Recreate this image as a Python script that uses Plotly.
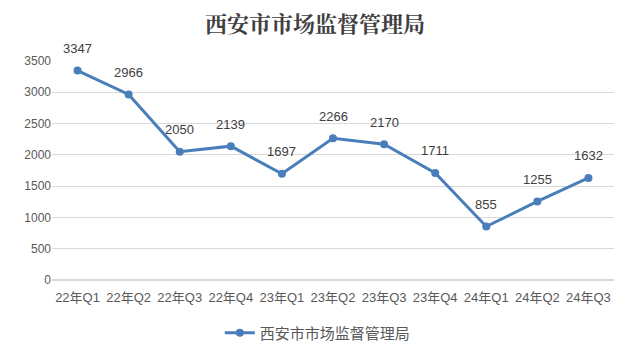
import plotly.graph_objects as go

categories = ["22年Q1", "22年Q2", "22年Q3", "22年Q4", "23年Q1", "23年Q2", "23年Q3", "23年Q4", "24年Q1", "24年Q2", "24年Q3"]
values = [3347, 2966, 2050, 2139, 1697, 2266, 2170, 1711, 855, 1255, 1632]
series_name = "西安市市场监督管理局"
y_ticks = [0, 500, 1000, 1500, 2000, 2500, 3000, 3500]

font_family = "Liberation Sans, Noto Sans CJK SC, sans-serif"
gray = "#595959"
blue = "#4a7ebb"

fig = go.Figure()
fig.add_trace(go.Scatter(
    x=categories, y=values, name=series_name,
    mode="lines+markers",
    line=dict(color=blue, width=3),
    marker=dict(color=blue, size=8),
    cliponaxis=False,
))
for c, v in zip(categories, values):
    fig.add_annotation(x=c, y=v, text=str(v), showarrow=False, yshift=22,
                       font=dict(size=13, color="#404040", family=font_family))

fig.update_layout(
    width=630, height=355,
    margin=dict(l=52, r=16, t=61, b=75, autoexpand=False),
    paper_bgcolor="white", plot_bgcolor="white",
    title=dict(text="<b>西安市市场监督管理局</b>", x=0.5, xanchor="center", yref="container", y=0.932, yanchor="middle",
               font=dict(size=22, color="#404040", family="Noto Serif CJK SC, Noto Sans CJK SC, serif")),
    showlegend=True,
    legend=dict(orientation="h", x=0.473, xanchor="center", yref="container", y=0.062, yanchor="middle",
                font=dict(size=15, color=gray, family=font_family)),
    font=dict(family=font_family, color=gray),
)
fig.update_xaxes(type="category", range=[-0.5, len(categories) - 0.5], showgrid=False, showline=False,
                 ticks="", ticklabelstandoff=8,
                 tickfont=dict(size=13, color=gray, family=font_family))
fig.update_yaxes(range=[0, 3500], tickvals=y_ticks, showgrid=True, gridcolor="#d9d9d9",
                 zeroline=True, zerolinecolor="#d9d9d9", showline=False, ticks="",
                 tickfont=dict(size=12, color=gray, family=font_family), ticksuffix="  ")

fig.write_html("out.html")
